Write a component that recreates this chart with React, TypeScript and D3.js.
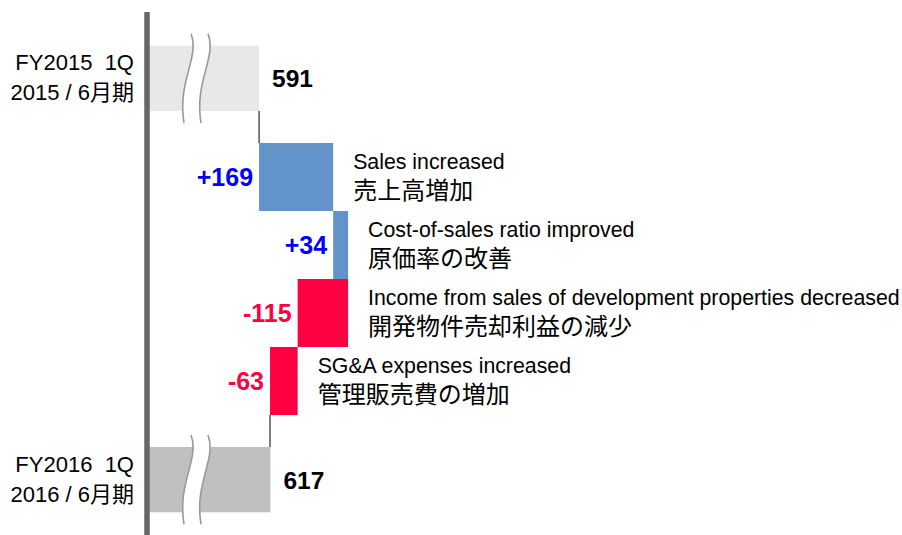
import { useEffect, useRef } from 'react';
import * as d3 from 'd3';

// totals (start / end)
const totalNames = ['FY2015  1Q', 'FY2016  1Q'];
const totalPeriods = ['2015 / 6月期', '2016 / 6月期'];
const totalValues = [591, 617];

// bridge steps
const stepNamesEn = [
  'Sales increased',
  'Cost-of-sales ratio improved',
  'Income from sales of development properties decreased',
  'SG&A expenses increased',
];
const stepNamesJa = ['売上高増加', '原価率の改善', '開発物件売却利益の減少', '管理販売費の増加'];
const stepDeltas = [169, 34, -115, -63];

const W = 902;
const H = 535;
const FONT = "'Liberation Sans', Arial, 'Noto Sans CJK JP', sans-serif";
const JFONT = "'Noto Sans CJK JP', 'Liberation Sans', sans-serif";

export default function App() {
  const ref = useRef<SVGSVGElement>(null);

  useEffect(() => {
    document.body.style.margin = '0';
    const svg = d3.select(ref.current);
    svg.selectAll('*').remove();

    // broken axis: the part below ~340 is cut away
    const x = d3.scaleLinear().domain([340, 1000]).range([149, 149 + 660 * 0.4385]);
    const y = d3.scaleBand<string>().domain(stepNamesEn).range([143, 415]).padding(0);
    const step = y.bandwidth();
    const totalH = step * 0.96;
    const gap = 32;
    const totalY = [143 - gap - totalH, 415 + gap];

    // running totals
    let run = totalValues[0];
    const steps = stepDeltas.map((d, i) => {
      const from = run;
      run += d;
      return { en: stepNamesEn[i], ja: stepNamesJa[i], d, from, to: run };
    });

    const totals = totalValues.map((v, i) => ({ v, y0: totalY[i], name: totalNames[i], period: totalPeriods[i] }));
    const totalFill = ['#e8e8e8', '#c0c0c0'];

    // connectors
    svg.append('line')
      .attr('x1', x(totalValues[0])).attr('x2', x(totalValues[0]))
      .attr('y1', totalY[0] + totalH).attr('y2', y(stepNamesEn[0])!)
      .attr('stroke', '#000').attr('stroke-width', 1);
    svg.append('line')
      .attr('x1', x(run)).attr('x2', x(run))
      .attr('y1', 415).attr('y2', totalY[1])
      .attr('stroke', '#000').attr('stroke-width', 1);

    // total bars
    const tg = svg.append('g');
    totals.forEach((t, i) => {
      tg.append('rect')
        .attr('x', x(340)).attr('y', t.y0)
        .attr('width', x(t.v) - x(340)).attr('height', totalH)
        .attr('fill', totalFill[i]);

      // break marks
      const top = t.y0 - 12;
      const bot = t.y0 + totalH + 12;
      const wave = (dx: number) =>
        `M${191 + dx},${top} C${200 + dx},${top + 24} ${177 + dx},${bot - 42} ${184 + dx},${bot}`;
      const waveBack = (dx: number) =>
        `L${184 + dx},${bot} C${177 + dx},${bot - 42} ${200 + dx},${top + 24} ${191 + dx},${top} Z`;
      tg.append('path')
        .attr('d', wave(0) + ' ' + waveBack(17))
        .attr('fill', '#fff');
      [0, 17].forEach(dx => {
        tg.append('path').attr('d', wave(dx)).attr('fill', 'none')
          .attr('stroke', '#999').attr('stroke-width', 1.6);
      });

      const cy = t.y0 + totalH / 2;
      tg.append('text')
        .attr('x', x(t.v) + 13).attr('y', cy + 9)
        .attr('font-family', FONT).attr('font-size', 24.5).attr('font-weight', 700)
        .attr('fill', '#000').text(t.v);
      tg.append('text')
        .attr('x', 134).attr('y', cy - 8).attr('text-anchor', 'end')
        .style('white-space', 'pre')
        .attr('font-family', FONT).attr('font-size', 22).attr('fill', '#000')
        .text(t.name);
      tg.append('text')
        .attr('x', 134).attr('y', cy + 22).attr('text-anchor', 'end')
        .attr('font-family', FONT).attr('font-size', 22).attr('fill', '#000')
        .text(t.period);
    });

    // step bars
    const sg = svg.append('g');
    steps.forEach(s => {
      const lo = Math.min(s.from, s.to);
      const hi = Math.max(s.from, s.to);
      const y0 = y(s.en)!;
      const cy = y0 + step / 2;
      const up = s.d > 0;
      sg.append('rect')
        .attr('x', x(lo)).attr('y', y0)
        .attr('width', x(hi) - x(lo)).attr('height', step)
        .attr('fill', up ? '#6294cb' : '#ff0042');
      sg.append('text')
        .attr('x', x(lo) - 6).attr('y', cy + 9).attr('text-anchor', 'end')
        .attr('font-family', FONT).attr('font-size', 25).attr('font-weight', 700)
        .attr('fill', up ? '#0000ff' : '#ff0042')
        .text((up ? '+' : '') + s.d);
      sg.append('text')
        .attr('x', x(hi) + 20).attr('y', cy - 8.5)
        .attr('font-family', FONT).attr('font-size', 21.3).attr('fill', '#000')
        .text(s.en);
      sg.append('text')
        .attr('x', x(hi) + 20).attr('y', cy + 22)
        .attr('font-family', JFONT).attr('font-size', 24).attr('fill', '#000')
        .text(s.ja);
    });

    // axis line
    svg.append('line')
      .attr('x1', 147).attr('x2', 147).attr('y1', 12).attr('y2', H)
      .attr('stroke', '#666').attr('stroke-width', 5.5);
  }, []);

  return <svg ref={ref} width={W} height={H} style={{ display: 'block', background: '#fff' }} />;
}
